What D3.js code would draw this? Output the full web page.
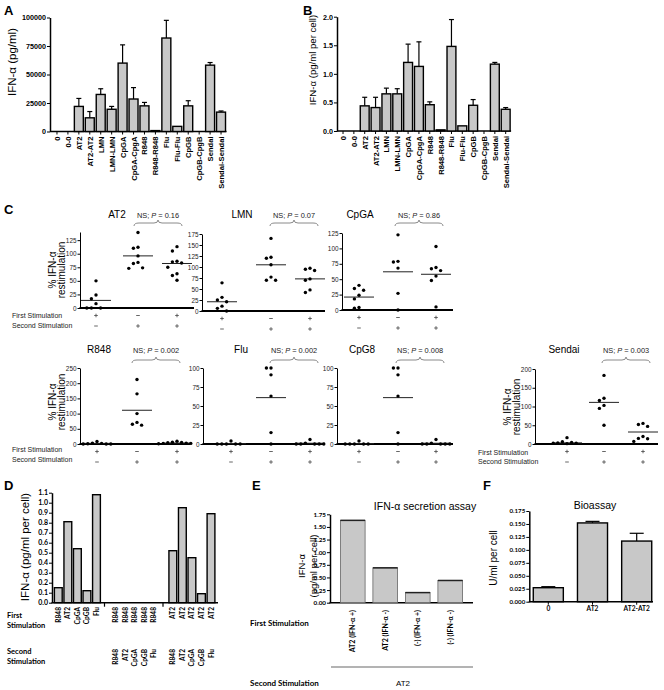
<!DOCTYPE html>
<html><head><meta charset="utf-8">
<script src="https://cdn.jsdelivr.net/npm/d3@7"></script>
<style>body{margin:0;background:#fff}svg{display:block}</style>
</head><body><svg id="c" width="664" height="690"></svg>
<script>
// ---------------- DATA ----------------
const catsAB = ["0","0-0","AT2","AT2-AT2","LMN","LMN-LMN","CpGA","CpGA-CpgA","R848","R848-R848","Flu","Flu-Flu","CpGB","CpGB-CpgB","Sendai","Sendai-Sendai"];
const valsA = [0,0,22000,12000,32500,19500,60000,28500,22500,800,82000,4500,22500,0,58200,17000];
const errA  = [0,0,29000,17500,37500,22000,76000,38500,25500,0,97500,0,27000,0,60500,18000];
const ticksA = [0,25000,50000,75000,100000];
const valsB = [0,0,0.44,0.41,0.65,0.65,1.2,1.13,0.46,0.02,1.48,0.09,0.45,0,1.17,0.38];
const errB  = [0,0,0.59,0.59,0.75,0.74,1.52,1.56,0.51,0,1.95,0,0.55,0,1.2,0.41];
const ticksB = [0,0.5,1.0,1.5,2.0];

const cTitles = ["AT2","LMN","CpGA","R848","Flu","CpG8","Sendai"];
const cPvals  = ["0.16","0.07","0.86","0.002","0.002","0.008","0.003"];
const cTop    = [140,175,125,250,100,100,200];
const cTicks  = [[0,25,50,75,100,125],[0,25,50,75,100,125,150,175],[0,25,50,75,100,125],
                 [0,50,100,150,200,250],[0,25,50,75,100],[0,25,50,75,100],[0,50,100,150,200]];
const cGroup1 = [[50,24,17,8,0,0,0],[64,31,25,21,11,6,0],[40,35,32,24,18,4,3],
                 [8,3,2,1,0,0,0],[4,0,0,0,0,0],[4,0,0,0,0,0],[17,6,4,3,2,2,1]];
const cGroup2 = [[139,112,110,96,84,82,74,73],[165,122,120,105,77,70,70],[122,79,78,68,27,0],
                 [212,165,100,71,65,62],[100,100,91,63,15,0],[100,100,91,63,15,0],[183,122,116,103,95,50]];
const cGroup3 = [[113,105,86,85,83,75,63,60,51],[97,95,92,73,70,48,42],[103,69,67,64,55,48,5],
                 [9,6,5,4,3,2,2,1],[6,1,0,0,0,0,0],[6,1,0,0,0,0,0],[55,52,47,20,15,14,7]];
const cMeans  = [[14,96,82],[21,105,73],[21,62,58],[2,111,3],[0.5,61,1],[0.5,61,1],[3,111,32]];
const cFirstSign  = ["+","-","+"];
const cSecondSign = ["-","+","+"];

const dFirst  = ["R848","AT2","CpGA","CpGB","Flu","R848","R848","R848","R848","R848","AT2","AT2","AT2","AT2","AT2"];
const dSecond = ["","","","","","R848","AT2","CpGA","CpGB","Flu","R848","AT2","CpGA","CpGB","Flu"];
const dVals   = [0.15,0.81,0.54,0.12,1.08,0,0,0,0,0,0.52,0.95,0.45,0.09,0.89];
const dTicks  = [0,0.1,0.2,0.3,0.4,0.5,0.6,0.7,0.8,0.9,1.0,1.1];

const eCats  = ["AT2 (IFN-\u03b1 +)","AT2 (IFN-\u03b1 -)","(-) (IFN-\u03b1 +)","(-)  (IFN-\u03b1 -)"];
const eVals  = [1.63,0.69,0.2,0.44];
const eTicks = [0,0.25,0.5,0.75,1.0,1.25,1.5,1.75];

const fCats  = ["0","AT2","AT2-AT2"];
const fVals  = [0.027,0.152,0.117];
const fErr   = [0.029,0.155,0.132];
const fTicks = [0,0.025,0.05,0.075,0.1,0.125,0.15,0.175];

// ---------------- HELPERS ----------------
const svg = d3.select("#c");
const FONT = "'Liberation Sans', Arial, Helvetica, sans-serif";
const BFONT = "Lato, 'Liberation Sans', sans-serif";
const BARFILL = "#c8c8c8";

function txt(x, y, s, o = {}) {
  const t = svg.append("text").attr("x", x).attr("y", y).text(s)
    .attr("font-family", o.ff || FONT).attr("font-size", o.fs || 8)
    .attr("font-weight", o.fw || "normal").attr("fill", o.fill || "#000")
    .attr("text-anchor", o.anchor || "start");
  if (o.rot) t.attr("transform", `rotate(${o.rot},${x},${y})`);
  return t;
}
function line(x1, y1, x2, y2, w = 1, c = "#000") {
  return svg.append("line").attr("x1", x1).attr("y1", y1).attr("x2", x2).attr("y2", y2)
    .attr("stroke", c).attr("stroke-width", w);
}
function sign(cx, cy, s) {
  line(cx - 1.8, cy, cx + 1.8, cy, 0.9, "#555");
  if (s === "+") line(cx, cy - 1.8, cx, cy + 1.8, 0.9, "#555");
}
function yAxis(y, x, ticks, fmt, o = {}) {
  const g = svg.append("g").attr("transform", `translate(${x},0)`)
    .call(d3.axisLeft(y).tickValues(ticks).tickSize(o.ts || 3).tickSizeOuter(0).tickFormat(fmt));
  g.select(".domain").attr("stroke-width", o.dw || 1.5);
  g.selectAll(".tick line").attr("stroke-width", o.tw || 1);
  g.selectAll(".tick text").attr("font-family", o.ff || FONT).attr("font-size", o.fs || 7)
    .attr("font-weight", o.fw || "bold").attr("fill", o.fill || "#000").attr("x", -(o.ts || 3) - 1);
  return g;
}

// panel letters
[["A",4,15],["B",303,15],["C",4,214],["D",4,490],["E",252,490],["F",483,490]].forEach(([l,x,y]) =>
  txt(x, y, l, {fs: 13, fw: "bold", ff: "'Liberation Sans', Arial, sans-serif"}));

// ---------------- A & B ----------------
function barAB(vals, errs, ticks, cfg) {
  const x = d3.scaleBand().domain(catsAB).range(cfg.xr).paddingInner(0.18).paddingOuter(0.09);
  const y = d3.scaleLinear().domain(cfg.yd).range(cfg.yr);
  yAxis(y, cfg.ax, ticks, cfg.fmt, {fs: 7.2});
  line(cfg.ax, y(0), cfg.xr[1], y(0), 1.6);
  catsAB.forEach((c, i) => {
    const cx = x(c) + x.bandwidth() / 2;
    line(cx, y(0), cx, y(0) + 3, 1);
    if (vals[i] > 0) {
      if (errs[i] > vals[i]) {
        line(cx, y(vals[i]), cx, y(errs[i]), 1.2);
        line(cx - 2.5, y(errs[i]), cx + 2.5, y(errs[i]), 1.2);
      }
      svg.append("rect").attr("x", x(c)).attr("y", y(vals[i]))
        .attr("width", x.bandwidth()).attr("height", Math.max(0.6, y(0) - y(vals[i])))
        .attr("fill", BARFILL).attr("stroke", "#000").attr("stroke-width", 1.4);
    }
    txt(cx + 3, y(0) + 5, c, {fs: 7.6, fw: "bold", anchor: "end", rot: -90});
  });
}
barAB(valsA, errA, ticksA, {xr: [51.5, 226.5], yd: [0, 100000], yr: [131.5, 17.5], ax: 50, fmt: d3.format("d")});
txt(16, 62, "IFN-\u03b1 (pg/ml)", {fs: 11.5, anchor: "middle", rot: -90});
barAB(valsB, errB, ticksB, {xr: [337.6, 511.1], yd: [0, 2], yr: [131, 16.7], ax: 337, fmt: d3.format(".1f")});
txt(316, 60, "IFN-\u03b1 (pg/ml per cell)", {fs: 9.6, anchor: "middle", rot: -90});

// ---------------- C ----------------
const cLayout = [
  {ax: 80,  y0: 308, yTop: 232, xEnd: 194, gx: [96, 138, 177], tX: 117, nsX: 158, tY: 218, bY: 220},
  {ax: 202, y0: 311, yTop: 234, xEnd: 325, gx: [222, 271, 310], tX: 242, nsX: 294, tY: 218, bY: 220},
  {ax: 342, y0: 310, yTop: 233, xEnd: 453, gx: [359, 398, 436], tX: 360, nsX: 419, tY: 218, bY: 220},
  {ax: 80,  y0: 444, yTop: 368, xEnd: 190, gx: [97, 137, 177], tX: 99, nsX: 156, tY: 353, bY: 357},
  {ax: 203, y0: 444, yTop: 368, xEnd: 323, gx: [231, 271, 310], tX: 241, nsX: 294, tY: 353, bY: 357},
  {ax: 337, y0: 444, yTop: 368, xEnd: 453, gx: [359, 398, 436], tX: 362, nsX: 420, tY: 353, bY: 357},
  {ax: 535, y0: 444, yTop: 369, xEnd: 658, gx: [567, 604, 643], tX: 564, nsX: 626, tY: 353, bY: 357}
];

function swarm(vals, y, cx) {
  const pts = vals.map(v => ({v, py: y(v)})).sort((a, b) => a.py - b.py);
  const placed = [];
  const cands = [0, -1, 1, -2, 2, -3, 3, -4, 4, -5, 5];
  pts.forEach(p => {
    for (const c of cands) {
      const px = cx + c * 4.6;
      if (placed.every(q => !(Math.abs(q.py - p.py) < 6 && Math.abs(q.px - px) < 4.2))) { p.px = px; break; }
    }
    if (p.px === undefined) p.px = cx;
    placed.push(p);
  });
  return placed;
}

function brace(x0, x1, yt) {
  const m = (x0 + x1) / 2, yb = yt + 6, ym = yt + 3;
  const d = `M${x0},${yb} Q${x0},${ym} ${x0 + 5},${ym} L${m - 4},${ym} Q${m},${ym} ${m},${yt} Q${m},${ym} ${m + 4},${ym} L${x1 - 5},${ym} Q${x1},${ym} ${x1},${yb}`;
  svg.append("path").attr("d", d).attr("fill", "none").attr("stroke", "#8a8a8a").attr("stroke-width", 1);
}

cTitles.forEach((title, i) => {
  const L = cLayout[i];
  const y = d3.scaleLinear().domain([0, cTop[i]]).range([L.y0, L.yTop]);
  yAxis(y, L.ax, cTicks[i], d3.format("d"), {fs: 6.4, fw: "normal", fill: "#222", dw: 1, ts: 2.5});
  line(L.ax - 0.5, L.y0, L.xEnd, L.y0, 1.8);
  [cGroup1[i], cGroup2[i], cGroup3[i]].forEach((vals, k) => {
    const cx = L.gx[k];
    line(cx - 15, y(cMeans[i][k]), cx + 15, y(cMeans[i][k]), 1, "#222");
    swarm(vals, y, cx).forEach(p =>
      svg.append("circle").attr("cx", p.px).attr("cy", p.py).attr("r", 1.7).attr("fill", "#000"));
    sign(cx, L.y0 + 7.5, cFirstSign[k]);
    sign(cx, L.y0 + 18, cSecondSign[k]);
  });
  txt(L.tX, L.tY, title, {fs: 10, anchor: "middle"});
  const ns = txt(L.nsX, L.tY, "", {fs: 7.4, anchor: "middle", fill: "#222"});
  ns.append("tspan").text("NS; ");
  ns.append("tspan").attr("font-style", "italic").text("P");
  ns.append("tspan").text(" = " + cPvals[i]);
  brace(L.nsX - 24, L.nsX + 24, L.bY);
});
// C y-labels and row labels
[[0, 270], [3, 402], [6, 407]].forEach(([i, cy]) => {
  const L = cLayout[i];
  txt(L.ax - 24, cy, "% IFN-\u03b1", {fs: 10, anchor: "middle", rot: -90});
  txt(L.ax - 15, cy, "restimulation", {fs: 10, anchor: "middle", rot: -90});
});
[[12, 318, 328], [12, 452, 462], [478, 455, 464]].forEach(([x, y1, y2]) => {
  txt(x, y1, "First Stimulation", {fs: 7, fill: "#222"});
  txt(x, y2, "Second Stimulation", {fs: 7, fill: "#222"});
});

// ---------------- D ----------------
{
  const y = d3.scaleLinear().domain([0, 1.1]).range([602.7, 492.7]);
  const xs = d3.scaleLinear().domain([0, 16]).range([58.3, 211]);
  const pos = i => xs(i + Math.floor(i / 5));
  const bw = 7.8;
  yAxis(y, 52, dTicks, d3.format(".1f"), {fs: 7, ff: BFONT});
  line(51.5, y(0), 218, y(0), 1.6);
  [104.5, 163].forEach(xx => line(xx, y(0), xx, y(0) + 4, 1.2));
  dVals.forEach((v, i) => {
    const cx = pos(i);
    if (v > 0) svg.append("rect").attr("x", cx - bw / 2).attr("y", y(v)).attr("width", bw)
      .attr("height", y(0) - y(v)).attr("fill", BARFILL).attr("stroke", "#000").attr("stroke-width", 1.4);
    txt(cx + 2.5, 607, dFirst[i], {fs: 6.6, fw: "bold", ff: BFONT, anchor: "end", rot: -90});
    if (dSecond[i]) txt(cx + 2.5, 649, dSecond[i], {fs: 6.6, fw: "bold", ff: BFONT, anchor: "end", rot: -90});
  });
  txt(29, 547, "IFN-\u03b1 (pg/ml per cell)", {fs: 11.5, anchor: "middle", rot: -90});
  txt(7, 618, "First", {fs: 7.5, fw: "bold", ff: BFONT});
  txt(7, 628, "Stimulation", {fs: 7.5, fw: "bold", ff: BFONT});
  txt(7, 654, "Second", {fs: 7.5, fw: "bold", ff: BFONT});
  txt(7, 664, "Stimulation", {fs: 7.5, fw: "bold", ff: BFONT});
}

// ---------------- E ----------------
{
  const y = d3.scaleLinear().domain([0, 1.75]).range([602.7, 514.3]);
  const x = d3.scaleBand().domain(eCats).range([336.5, 466.5]).paddingInner(0.24).paddingOuter(0.12);
  yAxis(y, 330, eTicks, d3.format(".2f"), {fs: 6.3, ff: BFONT});
  line(329.5, y(0), 473, y(0), 1.6);
  eCats.forEach((c, i) => {
    const x0 = x(c), w = x.bandwidth(), cx = x0 + w / 2;
    svg.append("rect").attr("x", x0).attr("y", y(eVals[i])).attr("width", w)
      .attr("height", y(0) - y(eVals[i])).attr("fill", BARFILL).attr("stroke", "#666").attr("stroke-width", 0.8);
    line(x0, y(eVals[i]), x0 + w, y(eVals[i]), 1.5, "#222");
    txt(cx + 2.5, 610, c, {fs: 7, fw: "bold", ff: BFONT, anchor: "end", rot: -90});
  });
  txt(425, 510, "IFN-\u03b1 secretion assay", {fs: 10.5, anchor: "middle"});
  txt(305, 566, "IFN-\u03b1", {fs: 9.5, anchor: "middle", rot: -90});
  txt(316.5, 566, "(pg/ml per cell)", {fs: 9.5, anchor: "middle", rot: -90});
  line(331, 667, 473, 667, 1.5, "#9a9a9a");
  txt(250, 626, "First Stimulation", {fs: 8, fw: "bold", ff: BFONT});
  txt(250, 686, "Second Stimulation", {fs: 8, fw: "bold", ff: BFONT});
  txt(403, 686, "AT2", {fs: 8, anchor: "middle"});
}

// ---------------- F ----------------
{
  const y = d3.scaleLinear().domain([0, 0.175]).range([601.7, 511]);
  const x = d3.scaleBand().domain(fCats).range([526.2, 658.8]).paddingInner(0.32).paddingOuter(0.16);
  yAxis(y, 529.3, fTicks, d3.format(".3f"), {fs: 6.2, ff: BFONT});
  line(528.8, y(0), 653, y(0), 1.6);
  fCats.forEach((c, i) => {
    const x0 = x(c), w = x.bandwidth(), cx = x0 + w / 2;
    line(cx, y(fVals[i]), cx, y(fErr[i]), 1.2);
    line(cx - 7, y(fErr[i]), cx + 7, y(fErr[i]), 1.2);
    svg.append("rect").attr("x", x0).attr("y", y(fVals[i])).attr("width", w)
      .attr("height", y(0) - y(fVals[i])).attr("fill", BARFILL).attr("stroke", "#000").attr("stroke-width", 1.4);
    line(cx, y(0), cx, y(0) + 3, 1);
    txt(cx, 611, c, {fs: 6.6, fw: "bold", ff: BFONT, anchor: "middle"});
  });
  txt(595, 509, "Bioassay", {fs: 10.5, anchor: "middle"});
  txt(497, 558, "U/ml per cell", {fs: 10, anchor: "middle", rot: -90});
}
</script></body></html>
